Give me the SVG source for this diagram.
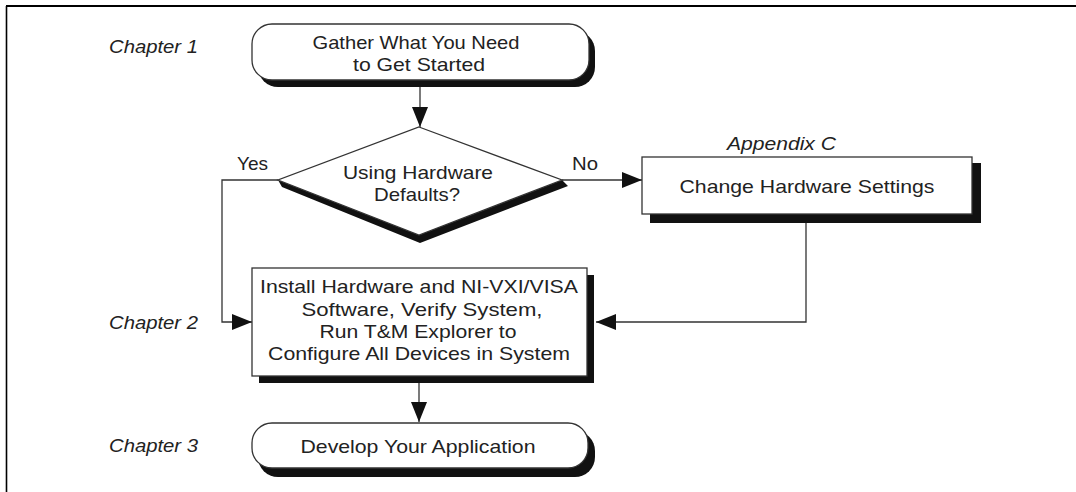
<svg xmlns="http://www.w3.org/2000/svg" width="1076" height="492" viewBox="0 0 1076 492">
<style>
text{font-family:"Liberation Sans",Arial,sans-serif;font-size:18.5px;fill:#222;text-anchor:middle}
.lbl{font-style:italic;text-anchor:start}
.yn{text-anchor:start}
.shape{fill:#fff;stroke:#333;stroke-width:1.3}
.shadow{fill:#111;stroke:none}
.conn{fill:none;stroke:#333;stroke-width:1.3}
.frame{stroke:#000;fill:none}
</style>
<defs>
<marker id="arr" markerUnits="userSpaceOnUse" markerWidth="20" markerHeight="16" refX="20" refY="8" orient="auto">
<path d="M0,0 L20,8 L0,16 z" fill="#111"/>
</marker>
</defs>
<rect width="1076" height="492" fill="#fff"/>
<g id="frame">
<line class="frame" x1="6" y1="6" x2="1076" y2="6" stroke-width="2.2"/>
<line class="frame" x1="6.5" y1="6" x2="6.5" y2="492" stroke-width="1.6"/>
</g>
<g id="labels">
<text class="lbl" x="109" y="53" textLength="89" lengthAdjust="spacingAndGlyphs">Chapter 1</text>
<text class="lbl" x="109" y="329" textLength="89" lengthAdjust="spacingAndGlyphs">Chapter 2</text>
<text class="lbl" x="109" y="452" textLength="89" lengthAdjust="spacingAndGlyphs">Chapter 3</text>
<text class="lbl" x="727" y="150" textLength="109" lengthAdjust="spacingAndGlyphs">Appendix C</text>
<text class="yn" x="237" y="170" textLength="31" lengthAdjust="spacingAndGlyphs">Yes</text>
<text class="yn" x="572" y="170" textLength="26" lengthAdjust="spacingAndGlyphs">No</text>
</g>
<g id="connectors">
<line class="conn" x1="420" y1="87" x2="420" y2="127" marker-end="url(#arr)"/>
<line class="conn" x1="562" y1="180" x2="642" y2="180" marker-end="url(#arr)"/>
<polyline class="conn" points="278,180 222,180 222,322 252,322" marker-end="url(#arr)"/>
<polyline class="conn" points="806,223 806,322 596,322" marker-end="url(#arr)"/>
<line class="conn" x1="419" y1="383" x2="419" y2="422" marker-end="url(#arr)"/>
</g>
<g id="gather">
<rect class="shadow" x="258" y="31" width="337" height="56" rx="20"/>
<rect class="shape" x="252" y="24" width="337" height="56" rx="20"/>
<text x="416" y="49" textLength="207" lengthAdjust="spacingAndGlyphs">Gather What You Need</text>
<text x="419" y="71" textLength="132" lengthAdjust="spacingAndGlyphs">to Get Started</text>
</g>
<g id="decision">
<polygon class="shadow" points="278,180 419,235 562,180 568,186 420,243 282,187"/>
<polygon class="shape" points="419,127 562,180 419,235 278,180"/>
<text x="418" y="179" textLength="150" lengthAdjust="spacingAndGlyphs">Using Hardware</text>
<text x="417" y="201" textLength="86" lengthAdjust="spacingAndGlyphs">Defaults?</text>
</g>
<g id="change">
<rect class="shadow" x="650" y="163" width="331" height="60"/>
<rect class="shape" x="642" y="157" width="330" height="57"/>
<text x="807" y="193" textLength="255" lengthAdjust="spacingAndGlyphs">Change Hardware Settings</text>
</g>
<g id="install">
<rect class="shadow" x="259" y="275" width="335" height="108"/>
<rect class="shape" x="252" y="268" width="335" height="108"/>
<text x="419" y="293" textLength="318" lengthAdjust="spacingAndGlyphs">Install Hardware and NI-VXI/VISA</text>
<text x="422" y="316" textLength="241" lengthAdjust="spacingAndGlyphs">Software, Verify System,</text>
<text x="418" y="338" textLength="197" lengthAdjust="spacingAndGlyphs">Run T&amp;M Explorer to</text>
<text x="419" y="360" textLength="302" lengthAdjust="spacingAndGlyphs">Configure All Devices in System</text>
</g>
<g id="develop">
<rect class="shadow" x="258" y="431" width="337" height="46" rx="20"/>
<rect class="shape" x="252" y="423" width="336" height="45" rx="20"/>
<text x="418" y="453" textLength="235" lengthAdjust="spacingAndGlyphs">Develop Your Application</text>
</g>
</svg>
